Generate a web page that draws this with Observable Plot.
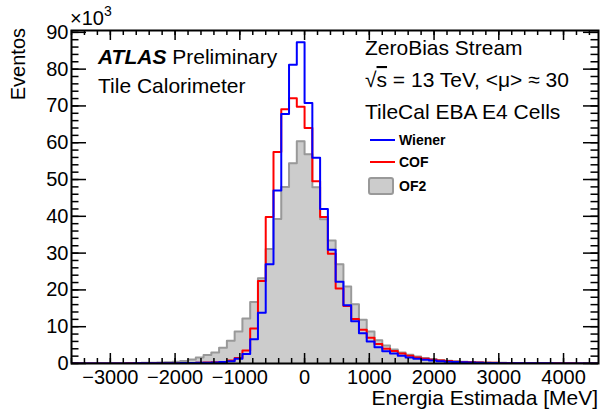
<!DOCTYPE html>
<html><head><meta charset="utf-8">
<script src="https://cdn.jsdelivr.net/npm/d3@7"></script>
<script src="https://cdn.jsdelivr.net/npm/@observablehq/plot@0.6"></script>
<style>body{margin:0;background:#fff}</style>
</head><body><div id="chart"></div>
<script>
// Histogram bins (energy in MeV), counts in thousands
const binStart = -3600;
const binWidth = 120;
const of2 = [0.05,0.05,0.06,0.07,0.08,0.09,0.1,0.12,0.14,0.17,
  0.2,0.25,0.35,0.5,0.7,1.1,1.6,2.3,3.0,4.3,
  6.2,8.7,12.2,16.7,23.2,31.1,39.3,48.0,54.4,60.4,
  56.9,47.9,39.2,33.4,27.0,20.9,16.1,11.9,8.7,6.3,
  4.9,3.8,3.0,2.4,1.9,1.5,1.2,0.95,0.75,0.6,
  0.5,0.4,0.33,0.27,0.22,0.18,0.15,0.12,0.1,0.09,
  0.08,0.07,0.06,0.05,0.05,0.04,0.04,0.03];
const cof = [0.02,0.02,0.02,0.02,0.03,0.03,0.03,0.04,0.04,0.05,
  0.06,0.07,0.08,0.1,0.12,0.15,0.2,0.25,0.32,0.42,
  0.8,1.5,3.5,9.5,22.4,39.8,57.5,69.1,72.1,69.8,
  64.0,49.5,39.8,29.8,20.4,15.6,12.1,9.2,7.0,5.3,
  4.0,3.4,2.7,2.1,1.6,1.3,1.0,0.8,0.65,0.5,
  0.4,0.33,0.27,0.22,0.18,0.14,0.12,0.1,0.08,0.07,
  0.06,0.05,0.05,0.04,0.04,0.03,0.03,0.03];
const wiener = [0.02,0.02,0.02,0.02,0.02,0.03,0.03,0.03,0.04,0.04,
  0.05,0.06,0.07,0.09,0.11,0.14,0.18,0.23,0.3,0.4,
  0.6,1.3,2.6,6.6,13.8,27.0,47.0,67.8,81.2,87.3,
  70.8,55.9,42.0,30.9,22.2,15.8,11.5,8.2,6.0,4.4,
  3.3,2.7,2.1,1.6,1.3,1.0,0.8,0.6,0.5,0.4,
  0.32,0.26,0.2,0.16,0.13,0.1,0.08,0.07,0.06,0.05,
  0.04,0.04,0.03,0.03,0.02,0.02,0.02,0.02];
const xMajor = [-3000,-2000,-1000,0,1000,2000,3000,4000];
const xMinor = d3.range(-3600, 4541, 200);
const yMajor = [0,10,20,30,40,50,60,70,80,90];
const yMinor = d3.range(0, 91, 2);
const seriesNames = ["Wiener","COF","OF2"];

function steps(vals){
  const pts = vals.map((v,i)=>({x: binStart + i*binWidth, y: v}));
  pts.push({x: binStart + vals.length*binWidth, y: vals[vals.length-1]});
  return pts;
}

const W = 602, H = 416, mL = 71, mR = 4, mT = 30, mB = 53;
const fh = H - mT - mB, fw = W - mL - mR;
const font = "'Liberation Sans', Arial, Helvetica, sans-serif";

const plot = Plot.plot({
  width: W, height: H,
  marginLeft: mL, marginRight: mR, marginTop: mT, marginBottom: mB,
  style: {fontFamily: font, color: "black", background: "white"},
  x: {domain: [-3600, 4540]},
  y: {domain: [0, 90.5]},
  marks: [
    Plot.areaY(steps(of2), {x: "x", y: "y", curve: "step-after", fill: "#cccccc", clip: true}),
    Plot.line(steps(of2), {x: "x", y: "y", curve: "step-after", stroke: "#999999", strokeWidth: 2, clip: true}),
    Plot.line(steps(cof), {x: "x", y: "y", curve: "step-after", stroke: "#ff0000", strokeWidth: 2, clip: true}),
    Plot.line(steps(wiener), {x: "x", y: "y", curve: "step-after", stroke: "#0000ff", strokeWidth: 2, clip: true}),
    // bottom & top ticks
    Plot.tickX(xMajor, {x: d=>d, insetTop: fh - 10, stroke: "black", strokeWidth: 1.5}),
    Plot.tickX(xMinor, {x: d=>d, insetTop: fh - 5, stroke: "black", strokeWidth: 1.5}),
    Plot.tickX(xMajor, {x: d=>d, insetBottom: fh - 10, stroke: "black", strokeWidth: 1.5}),
    Plot.tickX(xMinor, {x: d=>d, insetBottom: fh - 5, stroke: "black", strokeWidth: 1.5}),
    // left & right ticks
    Plot.tickY(yMajor, {y: d=>d, insetRight: fw - 15, stroke: "black", strokeWidth: 1.5}),
    Plot.tickY(yMinor, {y: d=>d, insetRight: fw - 7.5, stroke: "black", strokeWidth: 1.5}),
    Plot.tickY(yMajor, {y: d=>d, insetLeft: fw - 15, stroke: "black", strokeWidth: 1.5}),
    Plot.tickY(yMinor, {y: d=>d, insetLeft: fw - 7.5, stroke: "black", strokeWidth: 1.5}),
    Plot.axisX(xMajor, {anchor: "bottom", tickSize: 0, tickPadding: 6, tickFormat: d3.format("d"), fontSize: 20, label: null}),
    Plot.axisY(yMajor, {anchor: "left", tickSize: 0, tickPadding: 3, fontSize: 20, label: null}),
    Plot.frame({stroke: "black", strokeWidth: 2})
  ]
});

const svg = d3.select(plot);
const g = svg.append("g").attr("font-family", font).attr("fill", "black").attr("text-anchor", "start");
// axis titles
g.append("text").attr("transform", "translate(25,28) rotate(-90)").attr("text-anchor", "end")
  .attr("font-size", 20).text("Eventos");
g.append("text").attr("x", W - mR).attr("y", 405).attr("text-anchor", "end")
  .attr("font-size", 21).text("Energia Estimada [MeV]");
const mult = g.append("text").attr("x", 70).attr("y", 25).attr("font-size", 20);
mult.append("tspan").text("×10");
mult.append("tspan").attr("font-size", 14).attr("dy", -9).text("3");

// ATLAS labels
const t1 = g.append("text").attr("x", 98).attr("y", 64).attr("font-size", 21);
t1.append("tspan").attr("font-weight", "bold").attr("font-style", "italic").text("ATLAS");
t1.append("tspan").text(" Preliminary");
g.append("text").attr("x", 98).attr("y", 93).attr("font-size", 21).text("Tile Calorimeter");

g.append("text").attr("x", 365).attr("y", 55).attr("font-size", 21).text("ZeroBias Stream");
const t2 = g.append("text").attr("x", 365).attr("y", 87).attr("font-size", 21);
t2.append("tspan").text("√");
t2.append("tspan").attr("text-decoration", "overline").text("s");
t2.append("tspan").text(" = 13 TeV, <μ> ≈ 30");
g.append("text").attr("x", 365).attr("y", 119).attr("font-size", 21).text("TileCal EBA E4 Cells");

// legend
const lg = g.append("g").attr("font-size", 14).attr("font-weight", "bold");
lg.append("line").attr("x1", 370).attr("x2", 395).attr("y1", 140).attr("y2", 140).attr("stroke", "#0000ff").attr("stroke-width", 2);
lg.append("text").attr("x", 399).attr("y", 145).text(seriesNames[0]);
lg.append("line").attr("x1", 370).attr("x2", 395).attr("y1", 162).attr("y2", 162).attr("stroke", "#ff0000").attr("stroke-width", 2);
lg.append("text").attr("x", 399).attr("y", 167).text(seriesNames[1]);
lg.append("rect").attr("x", 369).attr("y", 178).attr("width", 24).attr("height", 16).attr("rx", 2)
  .attr("fill", "#cccccc").attr("stroke", "#999999").attr("stroke-width", 2);
lg.append("text").attr("x", 399).attr("y", 191).text(seriesNames[2]);

document.getElementById("chart").appendChild(plot);
</script>
</body></html>
